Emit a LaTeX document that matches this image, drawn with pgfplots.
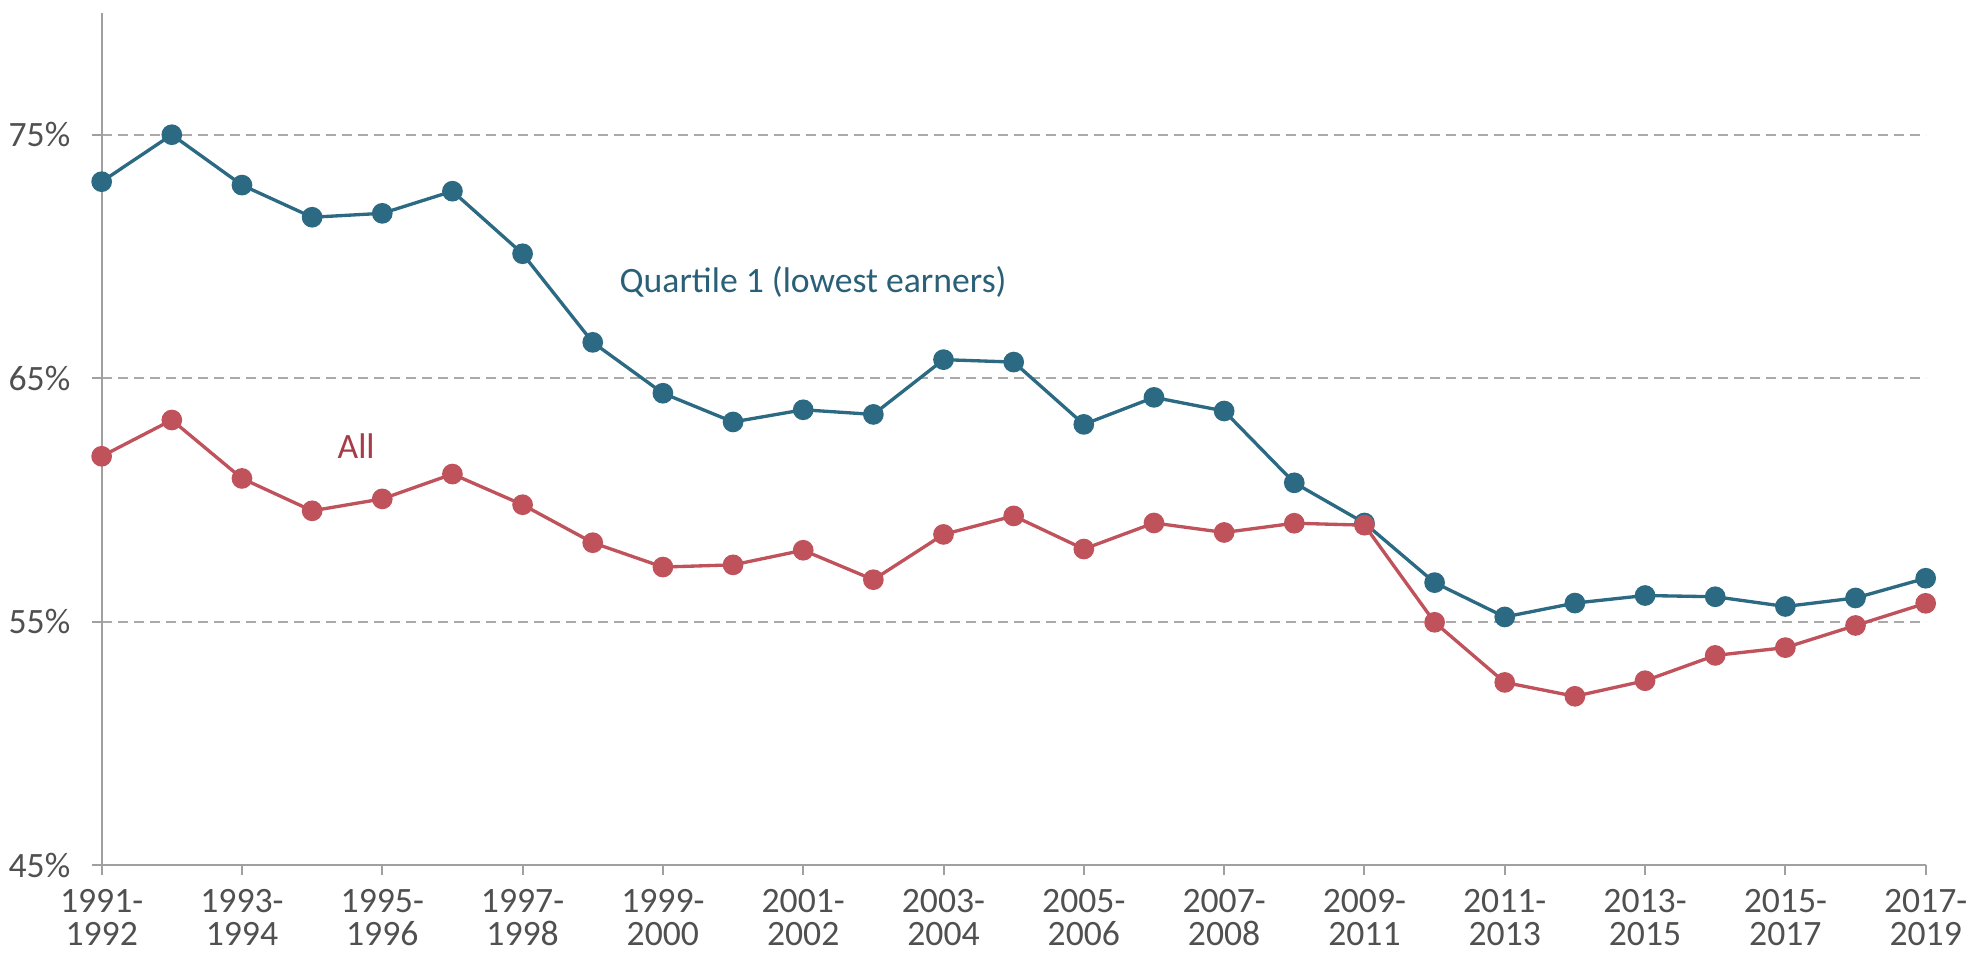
\documentclass[border=0pt]{standalone}
\usepackage{fontspec}
\setmainfont{Carlito}
\usepackage{pgfplots}
\pgfplotsset{compat=1.18}

\definecolor{qblue}{HTML}{2C6A83}
\definecolor{qbluetxt}{HTML}{2A6077}
\definecolor{allred}{HTML}{C0525C}
\definecolor{allredtxt}{HTML}{A63C47}
\definecolor{gridgray}{HTML}{AAAAAA}
\definecolor{axgray}{HTML}{A0A0A0}
\definecolor{txtgray}{HTML}{505050}

\begin{document}
\begin{tikzpicture}
\useasboundingbox (-30.5bp,-26.7bp) rectangle (559.6bp,259.5bp);
\begin{axis}[
    at={(0,0)}, anchor=south west,
    scale only axis, width=547.2bp, height=255.6bp,
    xmin=0, xmax=26, ymin=45, ymax=80,
    clip=false,
    axis lines=left,
    axis line style={-, axgray, line width=0.6bp},
    tick style={axgray, line width=0.6bp},
    major tick length=3bp,
    tick align=outside,
    xtick={0,2,...,26},
    xticklabels={{1991-\\1992},{1993-\\1994},{1995-\\1996},{1997-\\1998},{1999-\\2000},
        {2001-\\2002},{2003-\\2004},{2005-\\2006},{2007-\\2008},{2009-\\2011},
        {2011-\\2013},{2013-\\2015},{2015-\\2017},{2017-\\2019}},
    ytick={45,55,65,75},
    yticklabels={45\%,55\%,65\%,75\%},
    ymajorgrids,
    major grid style={gridgray, line width=0.6bp, dash pattern=on 3bp off 1.8bp},
    tick label style={font=\fontsize{10.7bp}{10bp}\selectfont, text=txtgray},
    xticklabel style={align=center, yshift=-0.8bp},
    yticklabel style={xshift=-2.9bp},
]

% Quartile 1 (lowest earners)
\addplot[color=qblue, line width=1bp, mark=*, mark size=2.6bp] coordinates {
    (0,73.07)(1,75.0)(2,72.93)(3,71.61)(4,71.77)(5,72.68)(6,70.11)(7,66.47)
    (8,64.38)(9,63.20)(10,63.70)(11,63.51)(12,65.76)(13,65.66)(14,63.10)
    (15,64.21)(16,63.65)(17,60.70)(18,59.05)(19,56.60)(20,55.19)(21,55.76)
    (22,56.07)(23,56.02)(24,55.62)(25,55.97)(26,56.78)
};

% All
\addplot[color=allred, line width=1bp, mark=*, mark size=2.6bp] coordinates {
    (0,61.79)(1,63.28)(2,60.88)(3,59.55)(4,60.04)(5,61.06)(6,59.80)(7,58.24)
    (8,57.24)(9,57.33)(10,57.93)(11,56.72)(12,58.58)(13,59.34)(14,57.98)
    (15,59.05)(16,58.66)(17,59.04)(18,58.96)(19,54.97)(20,52.50)(21,51.93)
    (22,52.57)(23,53.61)(24,53.93)(25,54.84)(26,55.75)
};

\node[anchor=base west, inner sep=0pt, text=qbluetxt, font=\fontsize{10.7bp}{12bp}\selectfont]
    at (axis cs:7.375,68.5) {Quartile 1 (lowest earners)};
\node[anchor=base west, inner sep=0pt, text=allredtxt, font=\fontsize{10.7bp}{12bp}\selectfont]
    at (axis cs:3.354,61.7) {All};
\end{axis}
\end{tikzpicture}
\end{document}
